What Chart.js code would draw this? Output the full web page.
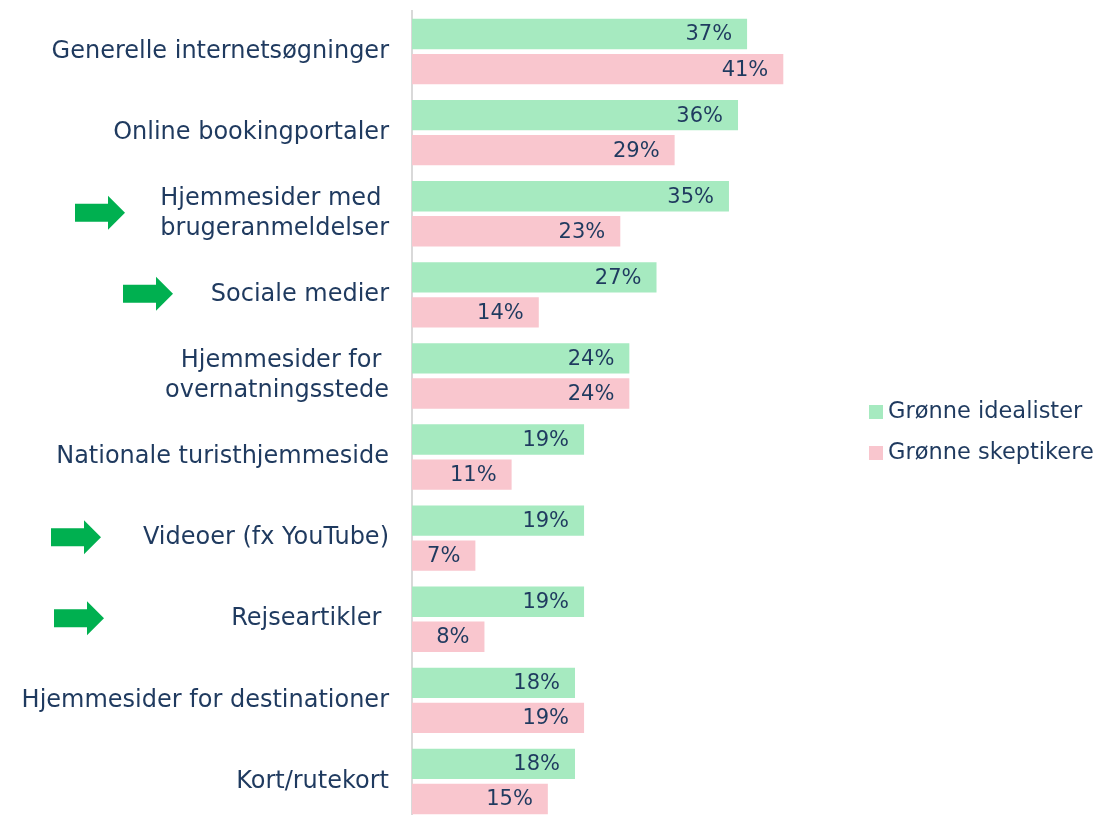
<!DOCTYPE html>
<html>
<head>
<meta charset="utf-8">
<script src="https://cdn.jsdelivr.net/npm/chart.js@4"></script>
<style>
  html, body { margin: 0; padding: 0; background: #fff; overflow: hidden; }
  #wrap { position: relative; width: 1114px; height: 822px; }
</style>
</head>
<body>
<div id="wrap"><canvas id="mainChart"></canvas></div>
<script>
const categories = [
  "Generelle internetsøgninger",
  "Online bookingportaler",
  ["Hjemmesider med ", "brugeranmeldelser"],
  "Sociale medier",
  ["Hjemmesider for ", "overnatningsstede"],
  "Nationale turisthjemmeside",
  "Videoer (fx YouTube)",
  "Rejseartikler ",
  "Hjemmesider for destinationer",
  "Kort/rutekort"
];
const idealister = [37, 36, 35, 27, 24, 19, 19, 19, 18, 18];
const skeptikere = [41, 29, 23, 14, 24, 11, 7, 8, 19, 15];
const seriesNames = ["Grønne idealister", "Grønne skeptikere"];
const arrowRows = [2, 3, 6, 7];

const NAVY = "#1F3A5F";
const GREEN = "#A6EAC0";
const PINK = "#F9C6CE";
const FONT = "'DejaVu Sans', sans-serif";

// arrow tip x for each marked row
const arrowTips = { 2: 125, 3: 173, 6: 101, 7: 104 };

const valueLabels = {
  id: "valueLabels",
  afterDatasetsDraw(chart) {
    const ctx = chart.ctx;
    ctx.save();
    ctx.font = "21px " + FONT;
    ctx.fillStyle = NAVY;
    ctx.textAlign = "right";
    ctx.textBaseline = "middle";
    chart.data.datasets.forEach((ds, i) => {
      chart.getDatasetMeta(i).data.forEach((bar, j) => {
        ctx.fillText(ds.data[j] + "%", bar.x - 15, bar.y + 1);
      });
    });
    ctx.restore();
  }
};

const arrows = {
  id: "arrows",
  afterDraw(chart) {
    const ctx = chart.ctx;
    const y = chart.scales.y;
    ctx.save();
    ctx.fillStyle = "#00B050";
    arrowRows.forEach(r => {
      const tip = arrowTips[r];
      const cy = y.getPixelForValue(r) - 1;
      ctx.beginPath();
      ctx.moveTo(tip - 50, cy - 9);
      ctx.lineTo(tip - 17, cy - 9);
      ctx.lineTo(tip - 17, cy - 17);
      ctx.lineTo(tip, cy);
      ctx.lineTo(tip - 17, cy + 17);
      ctx.lineTo(tip - 17, cy + 9);
      ctx.lineTo(tip - 50, cy + 9);
      ctx.closePath();
      ctx.fill();
    });
    ctx.restore();
  }
};

const sideLegend = {
  id: "sideLegend",
  afterDraw(chart) {
    const ctx = chart.ctx;
    ctx.save();
    ctx.font = "22.5px " + FONT;
    ctx.textBaseline = "middle";
    ctx.textAlign = "left";
    chart.data.datasets.forEach((ds, i) => {
      const cy = 412 + i * 41;
      ctx.fillStyle = ds.backgroundColor;
      ctx.fillRect(869, cy - 7, 14, 14);
      ctx.fillStyle = NAVY;
      ctx.fillText(ds.label, 888, cy);
    });
    ctx.restore();
  }
};

const ctx = document.getElementById("mainChart").getContext("2d");
new Chart(ctx, {
  type: "bar",
  data: {
    labels: categories,
    datasets: [
      { label: seriesNames[0], data: idealister, backgroundColor: GREEN,
        categoryPercentage: 0.864, barPercentage: 0.866 },
      { label: seriesNames[1], data: skeptikere, backgroundColor: PINK,
        categoryPercentage: 0.864, barPercentage: 0.866 }
    ]
  },
  options: {
    indexAxis: "y",
    responsive: true,
    maintainAspectRatio: false,
    animation: false,
    layout: { padding: { top: 11, right: 251, bottom: 0, left: 0 } },
    plugins: {
      legend: { display: false },
      tooltip: { enabled: false }
    },
    scales: {
      x: { display: false, min: 0, max: 49.8 },
      y: {
        afterFit(scale) {
          scale.width = 412;
          scale.paddingTop = 0;
          scale.paddingBottom = 0;
        },
        grid: { display: false, drawTicks: false },
        border: { display: true, color: "#D9D9D9", width: 2 },
        ticks: {
          color: NAVY,
          padding: 23,
          font: { family: FONT, size: 24, lineHeight: 1.25 }
        }
      }
    }
  },
  plugins: [valueLabels, arrows, sideLegend]
});
</script>
</body>
</html>
